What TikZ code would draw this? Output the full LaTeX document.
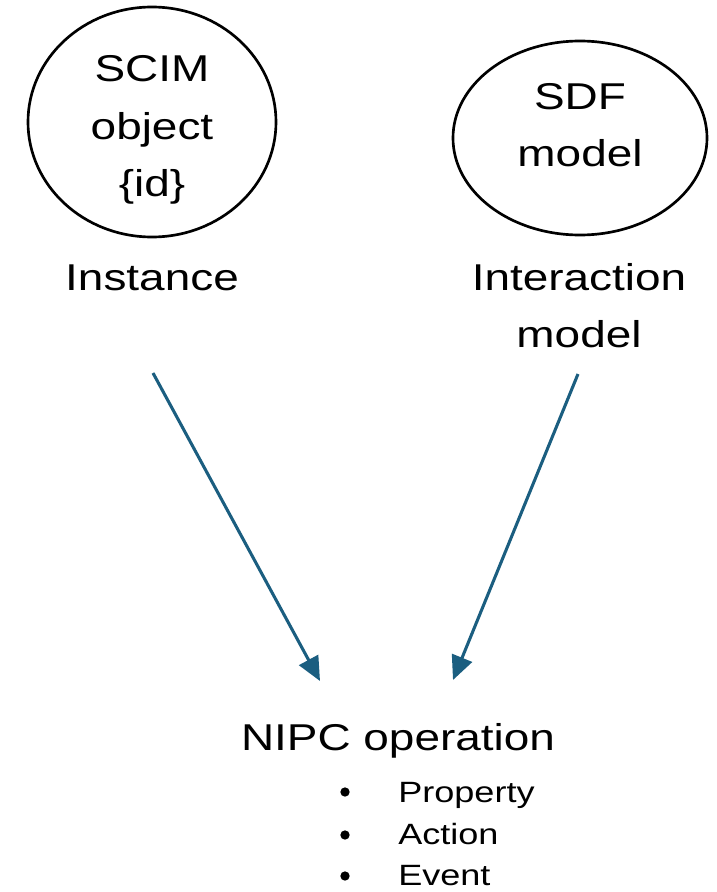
\documentclass[tikz,border=0pt]{standalone}
\usepackage{fontspec}
\setmainfont[FakeStretch=1.23]{Liberation Sans}
\usetikzlibrary{arrows.meta}
\definecolor{arrowblue}{HTML}{1B5E80}
\begin{document}
\begin{tikzpicture}[x=0.75pt,y=-0.75pt,
  big/.style={font=\fontsize{28pt}{34pt}\selectfont, anchor=base, inner sep=0pt},
  small/.style={font=\fontsize{22pt}{26pt}\selectfont, anchor=base west, inner sep=0pt},
  bul/.style={circle, fill=black, inner sep=0pt, minimum size=7pt},
  link/.style={draw=arrowblue, line width=2.3pt, -{Triangle[length=18pt,width=16pt]}}]
\useasboundingbox (0,0) rectangle (717,892);
% circles
\draw[line width=2pt] (152,122) ellipse [x radius=124, y radius=115];
\draw[line width=2pt] (580,138) ellipse [x radius=127, y radius=97];
\node[big] (scim1) at (152,82) {SCIM};
\node[big] (scim2) at (152,139) {object};
\node[big] (scim3) at (152,196) {\{id\}};
\node[big] (sdf1) at (580,109) {SDF};
\node[big] (sdf2) at (580,166) {model};
\node[big] (inst) at (152,290) {Instance};
\node[big] (inter1) at (579,290) {Interaction};
\node[big] (inter2) at (579,347) {model};
\node[big] (nipc) at (398,750) {NIPC operation};
\node[bul] (b1) at (345,792) {};
\node[bul] (b2) at (345,835) {};
\node[bul] (b3) at (345,876) {};
\node[small] (p1) at (398,802) {Property};
\node[small] (p2) at (398,844) {Action};
\node[small] (p3) at (398,885) {Event};
\coordinate (a1s) at (153,373);
\coordinate (a1e) at (320,681);
\coordinate (a2s) at (578,374);
\coordinate (a2e) at (453,680);
\draw[link] (a1s) -- (a1e);
\draw[link] (a2s) -- (a2e);
\end{tikzpicture}
\end{document}
